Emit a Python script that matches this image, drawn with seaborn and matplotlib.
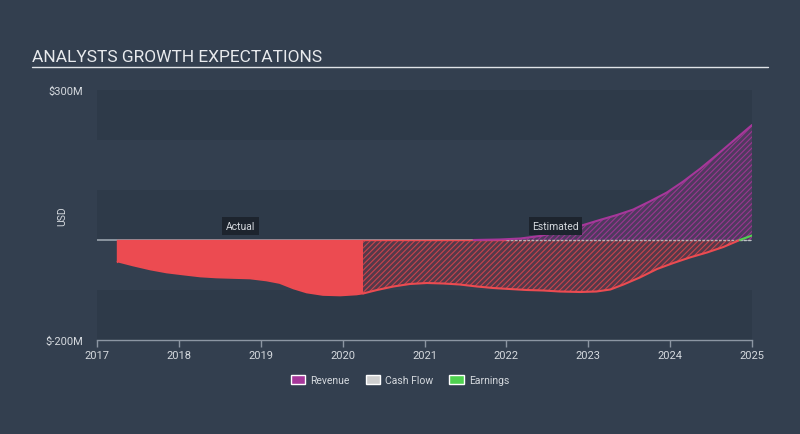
import matplotlib
matplotlib.use("Agg")
import matplotlib.pyplot as plt
from matplotlib.patches import Patch
import seaborn as sns
import numpy as np
import pandas as pd

# ---- data (USD millions) ----
earn_actual_x = [2017.25, 2017.44, 2017.65, 2017.85, 2018.05, 2018.26, 2018.46, 2018.66, 2018.87,
                 2019.07, 2019.23, 2019.4, 2019.56, 2019.76, 2019.97, 2020.17, 2020.25]
earn_actual_y = [-43, -51, -59, -65, -69, -73, -75, -76, -77, -81, -86, -97, -105, -110, -111, -109, -107]
earn_est_x = [2020.25, 2020.42, 2020.62, 2020.82, 2021.03, 2021.23, 2021.43, 2021.64, 2021.84, 2022.04,
              2022.25, 2022.45, 2022.65, 2022.9, 2023.1, 2023.27, 2023.43, 2023.63, 2023.84, 2024.04,
              2024.24, 2024.45, 2024.65, 2024.85, 2025.0]
earn_est_y = [-107, -100, -93, -88, -86, -87, -89, -93, -96, -98, -100, -101, -103, -104, -103, -99,
              -89, -75, -58, -46, -35, -25, -14, 0, 9]
rev_x = [2021.6, 2021.92, 2022.17, 2022.41, 2022.65, 2022.92, 2023.14, 2023.35, 2023.55, 2023.75,
         2023.96, 2024.16, 2024.37, 2024.57, 2024.77, 2025.0]
rev_y = [0, 1, 3, 8, 17, 29, 40, 50, 61, 77, 95, 117, 143, 170, 198, 230]
x_ticks = [2017, 2018, 2019, 2020, 2021, 2022, 2023, 2024, 2025]
y_ticks = [300, -200]
y_tick_labels = ["$300M", "$-200M"]

BG = "#333f4f"
DARK = "#2e3a49"
TXT = "#d5d9de"
RED = "#ec4b51"
PURPLE = "#a6379a"
GREEN = "#4fd24f"
GRAY = "#cfcfcf"

sns.set_style("dark")
plt.rcParams["font.family"] = ["Roboto", "DejaVu Sans"]
plt.rcParams["hatch.linewidth"] = 0.8

fig = plt.figure(figsize=(8, 4.35), dpi=100, facecolor=BG)
ax = fig.add_axes([97 / 800, 1 - 341 / 435, 655 / 800, 250 / 435])
ax.set_facecolor(BG)

for lo, hi in [(200, 300), (0, 100), (-200, -100)]:
    ax.axhspan(lo, hi, color=DARK, lw=0, zorder=0)

# zero line
ax.plot([2017, 2025], [0, 0], color="#9aa3ad", lw=1.2, zorder=1)

# Earnings actual (solid)
ax.fill_between(earn_actual_x, earn_actual_y, 0, facecolor=RED, edgecolor="none", lw=0, zorder=2)
ax.plot([earn_actual_x[0], earn_actual_x[0]], [0, earn_actual_y[0]], color=RED, lw=1, zorder=3)
ax.plot([earn_actual_x[0], 2020.25], [0, 0], color=RED, lw=1, zorder=3)

# Earnings estimate (hatched)
ex = np.array(earn_est_x, dtype=float)
ey = np.array(earn_est_y, dtype=float)
ax.fill_between(ex, ey, 0, where=ey <= 0, interpolate=True, facecolor="#55394a",
                edgecolor="#c9434c", hatch="//////", lw=0, zorder=2)
ax.fill_between(ex, ey, 0, where=ey >= 0, interpolate=True, facecolor="#3d5a45",
                edgecolor=GREEN, hatch="//////", lw=0, zorder=2)
ax.plot([2020.25, 2022.0], [0, 0], color=RED, lw=1, zorder=3)

# Revenue estimate (hatched)
ax.fill_between(rev_x, rev_y, 0, facecolor="#4f3a5f", edgecolor="#9a3690",
                hatch="//////", lw=0, zorder=2)

df_rev = pd.DataFrame({"x": rev_x, "y": rev_y})
sns.lineplot(data=df_rev, x="x", y="y", color=PURPLE, lw=1.5, ax=ax, zorder=4)

df_ea = pd.DataFrame({"x": earn_actual_x, "y": earn_actual_y})
sns.lineplot(data=df_ea, x="x", y="y", color=RED, lw=1.2, ax=ax, zorder=4)
neg = ey <= 0
df_en = pd.DataFrame({"x": ex[neg], "y": ey[neg]})
sns.lineplot(data=df_en, x="x", y="y", color=RED, lw=1.5, ax=ax, zorder=4)
df_ep = pd.DataFrame({"x": ex[-2:], "y": ey[-2:]})
sns.lineplot(data=df_ep, x="x", y="y", color=GREEN, lw=1.5, ax=ax, zorder=4)

# cash flow zero line (estimated)
ax.plot([2022.0, 2025], [0, 0], color=GRAY, lw=1, ls=(0, (2, 1)), zorder=3, alpha=0.8)

ax.set_xlim(2017, 2025)
ax.set_ylim(-200, 300)
ax.set_xticks(x_ticks)
ax.set_xticklabels([str(t) for t in x_ticks], color=TXT, fontsize=8)
ax.set_yticks(y_ticks)
ax.set_yticklabels(y_tick_labels, color=TXT, fontsize=8)
ax.tick_params(axis="x", length=5, color="#8c96a3", width=1, pad=2, direction="out", bottom=True)
ax.tick_params(axis="y", length=0, pad=10)
ax.set_xlabel("")
ax.set_ylabel("USD", color=TXT, fontsize=7.5)
ax.yaxis.set_label_coords(-0.046, 0.5)
ax.grid(False)
for s in ["top", "right", "left"]:
    ax.spines[s].set_visible(False)
ax.spines["bottom"].set_color("#8c96a3")
ax.spines["bottom"].set_linewidth(1)

box = dict(boxstyle="square,pad=0.35", facecolor="#1d242e", edgecolor="none")
ax.text(2018.75, 28, "Actual", color=TXT, fontsize=7.5, ha="center", va="center", bbox=box, zorder=6)
ax.text(2022.6, 28, "Estimated", color=TXT, fontsize=7.5, ha="center", va="center", bbox=box, zorder=6)

fig.text(32 / 800, 1 - 57 / 435, "ANALYSTS GROWTH EXPECTATIONS", color="#e8eaed", fontsize=12.5,
         ha="left", va="center")
fig.add_artist(plt.Line2D([32 / 800, 768 / 800], [1 - 68 / 435, 1 - 68 / 435], color="#e0e3e7", lw=1))

handles = [Patch(facecolor=PURPLE, label="Revenue"),
           Patch(facecolor=GRAY, label="Cash Flow"),
           Patch(facecolor=GREEN, label="Earnings")]
leg = fig.legend(handles=handles, loc="center", bbox_to_anchor=(400 / 800, 1 - 381 / 435), ncol=3,
                 frameon=False, fontsize=7.5, handlelength=1.4, handleheight=1.0, columnspacing=1.5,
                 handletextpad=0.5)
for t in leg.get_texts():
    t.set_color(TXT)

fig.savefig("out.png", dpi=100, facecolor=BG)
